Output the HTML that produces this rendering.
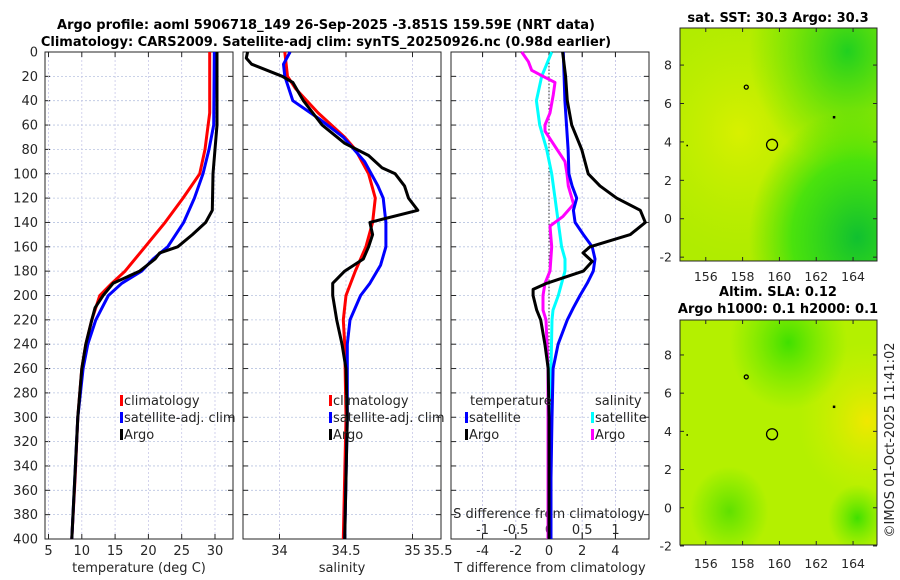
<!DOCTYPE html>
<html><head><meta charset="utf-8">
<style>
body{margin:0;background:#fff;}
svg{display:block;font-family:"DejaVu Sans","Liberation Sans",sans-serif;}
</style></head>
<body>
<svg id="c" width="900" height="580" viewBox="0 0 900 580" xmlns="http://www.w3.org/2000/svg">
<defs>
<radialGradient id="sstY" cx="0.3" cy="0.45" r="0.55"><stop offset="0" stop-color="#d8f000"/><stop offset="1" stop-color="#c0ee00" stop-opacity="0"/></radialGradient>
<radialGradient id="sstG1" cx="0.9" cy="0.9" r="0.55"><stop offset="0" stop-color="#10c030"/><stop offset="0.6" stop-color="#30e010" stop-opacity="0.8"/><stop offset="1" stop-color="#40e000" stop-opacity="0"/></radialGradient>
<radialGradient id="sstG2" cx="0.85" cy="0.1" r="0.5"><stop offset="0" stop-color="#20d020"/><stop offset="1" stop-color="#40e000" stop-opacity="0"/></radialGradient>
<radialGradient id="slaY" cx="0.95" cy="0.45" r="0.35"><stop offset="0" stop-color="#f0e800"/><stop offset="1" stop-color="#d0f000" stop-opacity="0"/></radialGradient>
<radialGradient id="slaG" cx="0.55" cy="0.1" r="0.3"><stop offset="0" stop-color="#40e000"/><stop offset="1" stop-color="#60e800" stop-opacity="0"/></radialGradient>
<radialGradient id="slaG2" cx="0.25" cy="0.85" r="0.2"><stop offset="0" stop-color="#60e000"/><stop offset="1" stop-color="#60e800" stop-opacity="0"/></radialGradient>
<radialGradient id="slaG3" cx="0.9" cy="0.88" r="0.15"><stop offset="0" stop-color="#40e000"/><stop offset="1" stop-color="#60e800" stop-opacity="0"/></radialGradient>
</defs>
<g id="root"></g>
</svg>
<script>
// ---------- data ----------
const depthTicks=[0,20,40,60,80,100,120,140,160,180,200,220,240,260,280,300,320,340,360,380,400];
const tempTicks=[5,10,15,20,25,30];
const salTicks=[34,34.5,35];
const tdiffTicks=[-4,-2,0,2,4];
const sdiffTicks=[-1,-0.5,0,0.5,1];
const lonTicks=[156,158,160,162,164];
const latTicks=[8,6,4,2,0,-2];

const climTDepth=[0,50,80,100,120,140,160,180,190,200,220,240,260,300,350,400];
const climT=[29.2,29.2,28.5,27.7,25.2,22.5,19.5,16.5,14.5,12.7,11.5,10.6,10.0,9.4,9.0,8.5];
const satTDepth=[0,60,80,100,120,140,160,170,180,190,200,220,240,260,300,400];
const satT=[29.9,29.8,29.1,28.2,26.9,25.3,22.9,20.7,19.0,16.0,14.0,12.1,10.9,10.2,9.4,8.5];
const argoTDepth=[0,60,100,130,140,150,160,165,170,180,190,200,210,220,240,260,300,400];
const argoT=[30.3,30.3,29.7,29.6,28.6,26.6,24.4,21.7,21.0,18.7,14.7,13.2,12.0,11.5,10.6,10.0,9.4,8.5];

const climSDepth=[0,20,30,50,70,80,100,120,140,160,180,200,220,240,300,400];
const climS=[34.04,34.06,34.12,34.29,34.49,34.57,34.67,34.72,34.70,34.65,34.57,34.50,34.48,34.49,34.50,34.48];
const satSDepth=[0,10,20,40,55,70,90,110,120,140,160,175,190,200,220,240,300,400];
const satS=[34.08,34.03,34.04,34.10,34.30,34.48,34.64,34.74,34.78,34.80,34.80,34.76,34.68,34.61,34.53,34.51,34.51,34.49];
const argoSDepth=[0,5,10,20,25,40,60,75,85,95,100,110,120,130,140,150,160,170,180,190,200,220,240,260,300,400];
const argoS=[33.76,33.75,33.79,34.02,34.10,34.18,34.32,34.49,34.67,34.77,34.87,34.94,34.97,35.04,34.68,34.70,34.67,34.63,34.49,34.40,34.40,34.43,34.47,34.50,34.51,34.49];

const argoTdDepth=[0,20,40,60,80,100,110,120,130,140,150,160,165,172,180,190,195,200,212,220,240,260,300,400];
const argoTd=[0.82,1.0,1.1,1.37,1.97,2.36,3.07,4.07,5.5,5.8,4.9,2.47,2.05,2.6,2.07,-0.14,-0.96,-0.96,-0.74,-0.5,-0.25,-0.05,0,0];
const satTdDepth=[0,40,80,100,110,120,130,140,150,160,170,180,190,200,210,220,240,260,300,350,400];
const satTd=[0.86,0.96,1.15,1.2,1.39,1.67,1.47,1.57,2.07,2.6,2.77,2.67,2.3,1.87,1.47,1.1,0.55,0.25,0.18,0.12,0.12];
const satSdDepth=[0,10,20,40,60,80,100,120,140,160,170,180,190,200,212,220,260,400];
const satSd=[0.04,-0.035,-0.11,-0.19,-0.14,-0.035,0.04,0.09,0.14,0.19,0.24,0.24,0.19,0.14,0.06,0.045,0.03,0.03];
const argoSdDepth=[0,8,15,20,25,35,50,60,65,75,90,100,110,125,135,143,160,180,190,200,212,220,260,400];
const argoSd=[-0.41,-0.31,-0.26,-0.09,0.09,0.065,0.015,-0.06,-0.06,0.06,0.24,0.27,0.29,0.37,0.21,0.015,0.04,0.015,-0.06,-0.09,-0.09,-0.045,-0.015,-0.015];

const argoLon=[159.6], argoLat=[3.85];

// ---------- helpers ----------
const NS="http://www.w3.org/2000/svg";
const root=document.getElementById('root');
function el(tag,attrs,parent){const e=document.createElementNS(NS,tag);for(const k in attrs)e.setAttribute(k,attrs[k]);(parent||root).appendChild(e);return e;}
function txt(s,x,y,attrs,parent){const t=el('text',Object.assign({x:x,y:y,'font-size':13,fill:'#262626'},attrs||{}),parent);t.textContent=s;return t;}

const Y0=52,Y1=539;
const yD=d=>Y0+d*(Y1-Y0)/400;
const panels=[{x0:45,x1:233},{x0:243,x1:441},{x0:451,x1:649}];
const xT=v=>48.5+(v-5)*6.66;
const xS=v=>346+(v-34.5)*133;
const xTd=v=>549+v*16.6;
const xSd=v=>549+v*66.5;

let t1=txt('Argo profile: aoml 5906718_149 26-Sep-2025 -3.851S 159.59E (NRT data)',326,29,{'text-anchor':'middle','font-weight':'bold','font-size':13,fill:'#000'});

let t2=txt('Climatology: CARS2009. Satellite-adj clim: synTS_20250926.nc (0.98d earlier)',326,46,{'text-anchor':'middle','font-weight':'bold','font-size':13,fill:'#000'});


const vgrid=[tempTicks.map(xT),salTicks.map(xS),tdiffTicks.map(xTd).concat(sdiffTicks.map(xSd))];
panels.forEach((p,i)=>{
  const g=el('g',{});
  
  
  depthTicks.forEach(d=>{
    el('line',{x1:p.x0,x2:p.x1,y1:yD(d),y2:yD(d),stroke:'#b8c4e0','stroke-width':0.8,'stroke-dasharray':'2,2'},g);
    el('line',{x1:p.x0,x2:p.x0+5,y1:yD(d),y2:yD(d),stroke:'#262626'},g);
    el('line',{x1:p.x1-5,x2:p.x1,y1:yD(d),y2:yD(d),stroke:'#262626'},g);
  });
  vgrid[i].forEach(x=>{
    el('line',{x1:x,x2:x,y1:Y0,y2:Y1,stroke:'#c8c8e8','stroke-width':0.8,'stroke-dasharray':'2,2'},g);
    el('line',{x1:x,x2:x,y1:Y1,y2:Y1-5,stroke:'#262626'},g);
    el('line',{x1:x,x2:x,y1:Y0,y2:Y0+5,stroke:'#262626'},g);
  });
  el('rect',{x:p.x0,y:Y0,width:p.x1-p.x0,height:Y1-Y0,fill:'none',stroke:'#262626','stroke-width':1},g);
});
depthTicks.forEach(d=>{const t=txt(String(d),38,yD(d)+4.5,{'text-anchor':'end'});});
tempTicks.forEach(v=>{const t=txt(String(v),xT(v),555,{'text-anchor':'middle'});});
salTicks.forEach(v=>{const t=txt(String(v),xS(v),555,{'text-anchor':'middle'});});
let t355=txt('35.5',438,555,{'text-anchor':'middle'});
tdiffTicks.forEach(v=>{const t=txt(String(v),xTd(v),555,{'text-anchor':'middle'});});
sdiffTicks.forEach(v=>{const t=txt(String(v),xSd(v),534,{'text-anchor':'middle'});});
let a1=txt('temperature (deg C)',139,572,{'text-anchor':'middle'});
let a2=txt('salinity',342,572,{'text-anchor':'middle'});
let a3=txt('T difference from climatology',550,572,{'text-anchor':'middle'});
let a4=txt('S difference from climatology',549,518,{'text-anchor':'middle'});

let zl=el('line',{x1:549,x2:549,y1:Y0,y2:Y1,stroke:'#333','stroke-width':1,'stroke-dasharray':'1.5,2'});


function line(vals,depths,xf,color,name,w){
  const d=vals.map((v,i)=>(i?'L':'M')+xf(v).toFixed(1)+','+yD(depths[i]).toFixed(1)).join('');
  const p=el('path',{d:d,fill:'none',stroke:color,'stroke-width':w||3,'stroke-linejoin':'round'});
  
  
  return p;
}
line(climT,climTDepth,xT,'#ff0000','climatology-temp-line');
line(satT,satTDepth,xT,'#0000ff','satellite-temp-line');
line(argoT,argoTDepth,xT,'#000000','argo-temp-line');
line(climS,climSDepth,xS,'#ff0000','climatology-sal-line');
line(satS,satSDepth,xS,'#0000ff','satellite-sal-line');
line(argoS,argoSDepth,xS,'#000000','argo-sal-line');
line(satSd,satSdDepth,xSd,'#00ffff','satellite-sdiff-line');
line(argoSd,argoSdDepth,xSd,'#ff00ff','argo-sdiff-line');
line(satTd,satTdDepth,xTd,'#0000ff','satellite-tdiff-line');
line(argoTd,argoTdDepth,xTd,'#000000','argo-tdiff-line');

function legend(x,y,color,label,name){
  const g=el('g',{});
  
  
  el('rect',{x:x,y:y-10,width:3,height:11,fill:color},g);
  txt(label,x+4,y,{'font-size':13},g);
}
legend(120,405,'#ff0000','climatology','legend-climatology');
legend(120,422,'#0000ff','satellite-adj. clim','legend-satellite-adj');
legend(120,439,'#000000','Argo','legend-argo');
legend(329,405,'#ff0000','climatology','legend-climatology-2');
legend(329,422,'#0000ff','satellite-adj. clim','legend-satellite-adj-2');
legend(329,439,'#000000','Argo','legend-argo-2');
let lt=txt('temperature',470,405,{'font-size':13});
let ls=txt('salinity',595,405,{'font-size':13});
legend(465,422,'#0000ff','satellite','legend-t-satellite');
legend(465,439,'#000000','Argo','legend-t-argo');
legend(591,422,'#00ffff','satellite','legend-s-satellite');
legend(591,439,'#ff00ff','Argo','legend-s-argo');

const maps=[{y0:28,y1:261,latTop:9.93,latBot:-2.2,base:'#b0ec00',fills:['sstY','sstG1','sstG2'],title:['sat. SST: 30.3 Argo: 30.3'],name:'sst-map',ty:[22],labY:281},
            {y0:320,y1:545,latTop:9.83,latBot:-1.95,base:'#b4f000',fills:['slaY','slaG','slaG2','slaG3'],title:['Altim. SLA: 0.12','Argo h1000: 0.1 h2000: 0.1'],name:'sla-map',ty:[296,313],labY:568}];
const MX0=680,MX1=877,lonL=154.6,lonR=165.3;
const xLon=v=>MX0+(v-lonL)*(MX1-MX0)/(lonR-lonL);
maps.forEach(m=>{
  const yLat=v=>m.y0+(m.latTop-v)*(m.y1-m.y0)/(m.latTop-m.latBot);
  const g=el('g',{});
  
  
  el('rect',{x:MX0,y:m.y0,width:MX1-MX0,height:m.y1-m.y0,fill:m.base},g);
  m.fills.forEach(f=>el('rect',{x:MX0,y:m.y0,width:MX1-MX0,height:m.y1-m.y0,fill:'url(#'+f+')'},g));
  el('rect',{x:MX0,y:m.y0,width:MX1-MX0,height:m.y1-m.y0,fill:'none',stroke:'#262626'},g);
  latTicks.forEach(v=>{
    const y=yLat(v);
    el('line',{x1:MX0,x2:MX0+4,y1:y,y2:y,stroke:'#262626'},g);
    el('line',{x1:MX1-4,x2:MX1,y1:y,y2:y,stroke:'#262626'},g);
    txt(String(v),672,y+4.5,{'text-anchor':'end','font-size':12.5},g);
  });
  lonTicks.forEach(v=>{
    const x=xLon(v);
    el('line',{x1:x,x2:x,y1:m.y1,y2:m.y1-4,stroke:'#262626'},g);
    el('line',{x1:x,x2:x,y1:m.y0,y2:m.y0+4,stroke:'#262626'},g);
    txt(String(v),x,m.labY,{'text-anchor':'middle','font-size':12.5},g);
  });
  argoLon.forEach((lo,i)=>el('circle',{cx:xLon(lo),cy:yLat(argoLat[i]),r:5.5,fill:'none',stroke:'#000','stroke-width':1.3},g));
  el('circle',{cx:xLon(158.2),cy:yLat(6.85),r:2,fill:'none',stroke:'#000','stroke-width':1.3},g);
  el('rect',{x:xLon(162.9),y:yLat(5.35),width:2.5,height:2.5,fill:'#000'},g);
  el('rect',{x:xLon(154.95),y:yLat(3.85),width:1.5,height:1.5,fill:'#000'},g);
  m.title.forEach((s,i)=>txt(s,778,m.ty[i],{'text-anchor':'middle','font-weight':'bold','font-size':13,fill:'#000'},g));
});
let cp=txt('©IMOS 01-Oct-2025 11:41:02',0,0,{'font-size':13,'text-anchor':'middle',transform:'translate(894,440) rotate(-90)'});

</script>
</body></html>
